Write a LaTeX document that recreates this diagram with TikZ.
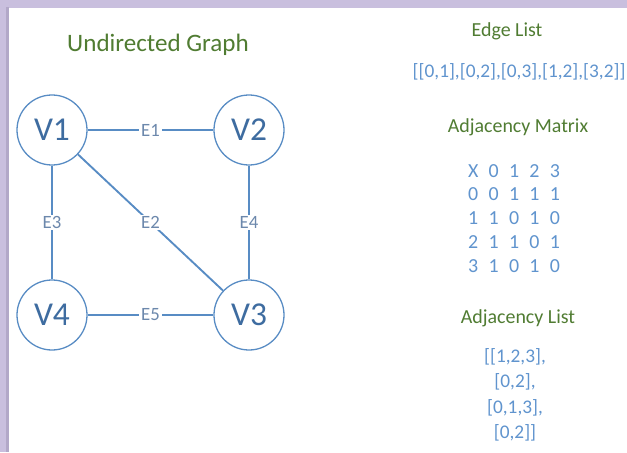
\documentclass[tikz,border=0pt]{standalone}
\usepackage{fontspec}
\setmainfont{Carlito}
\definecolor{bgLav}{RGB}{201,191,222}
\definecolor{shLav}{RGB}{178,168,200}
\definecolor{gTitle}{RGB}{80,124,50}
\definecolor{bText}{RGB}{96,148,206}
\definecolor{eBlue}{RGB}{88,140,196}
\definecolor{vBlue}{RGB}{62,108,160}
\definecolor{eGray}{RGB}{108,136,172}

\tikzstyle{nS}=[circle,minimum size = 2.1cm,inner sep = 0pt,draw=eBlue,line width=1.1pt,text=vBlue,font=\fontsize{28.5}{28.5}\selectfont]
\tikzstyle{eS}=[line width=1.6pt,draw=eBlue]
\tikzstyle{eNS}=[fill=white,inner sep = 1.5pt,text=eGray,font=\fontsize{16}{16}\selectfont]
\tikzstyle{tG}=[inner sep = 0pt,text=gTitle,font=\fontsize{17}{17}\selectfont]
\tikzstyle{tB}=[inner sep = 0pt,text=bText,font=\fontsize{16.5}{21.8}\selectfont,align=center]

\begin{document}
\begin{tikzpicture}[x=0.03cm,y=-0.03cm]
    \useasboundingbox (0,0) rectangle (627,452);
    \fill[bgLav] (0,0) rectangle (627,452);
    \fill[shLav] (6,7) rectangle (9,452);
    \fill[white] (9,8) rectangle (627,452);
    % graph
    \draw (158,45) node[tG,font=\fontsize{21.4}{21.4}\selectfont] (tUndir) {Undirected Graph};
    \draw (52,130) node[nS] (n1) {V1};
    \draw (249,130) node[nS] (n2) {V2};
    \draw (249,315) node[nS] (n3) {V3};
    \draw (52,315) node[nS] (n4) {V4};
    \path
        (n1) edge[eS] node[eNS]{E1} (n2)
        (n1) edge[eS] node[eNS]{E2} (n3)
        (n1) edge[eS] node[eNS]{E3} (n4)
        (n2) edge[eS] node[eNS]{E4} (n3)
        (n4) edge[eS] node[eNS]{E5} (n3)
    ;
    % representations
    \draw (507,31) node[tG] (tEdge) {Edge List};
    \draw (519,72) node[tB] (lEdge) {[[0,1],[0,2],[0,3],[1,2],[3,2]]};
    \draw (518,127) node[tG] (tMat) {Adjacency Matrix};
    \draw (514,220) node[tB,font=\fontsize{17}{20.3}\selectfont] (mAdj) {%
        \setlength{\tabcolsep}{4.4pt}%
        \begin{tabular}{@{}ccccc@{}}
        X & 0 & 1 & 2 & 3\\
        0 & 0 & 1 & 1 & 1\\
        1 & 1 & 0 & 1 & 0\\
        2 & 1 & 1 & 0 & 1\\
        3 & 1 & 0 & 1 & 0
        \end{tabular}};
    \draw (518,318) node[tG] (tList) {Adjacency List};
    \draw (515,395) node[tB] (lAdj) {[[1,2,3],\\{}[0,2],\\{}[0,1,3],\\{}[0,2]]};
\end{tikzpicture}
\end{document}
